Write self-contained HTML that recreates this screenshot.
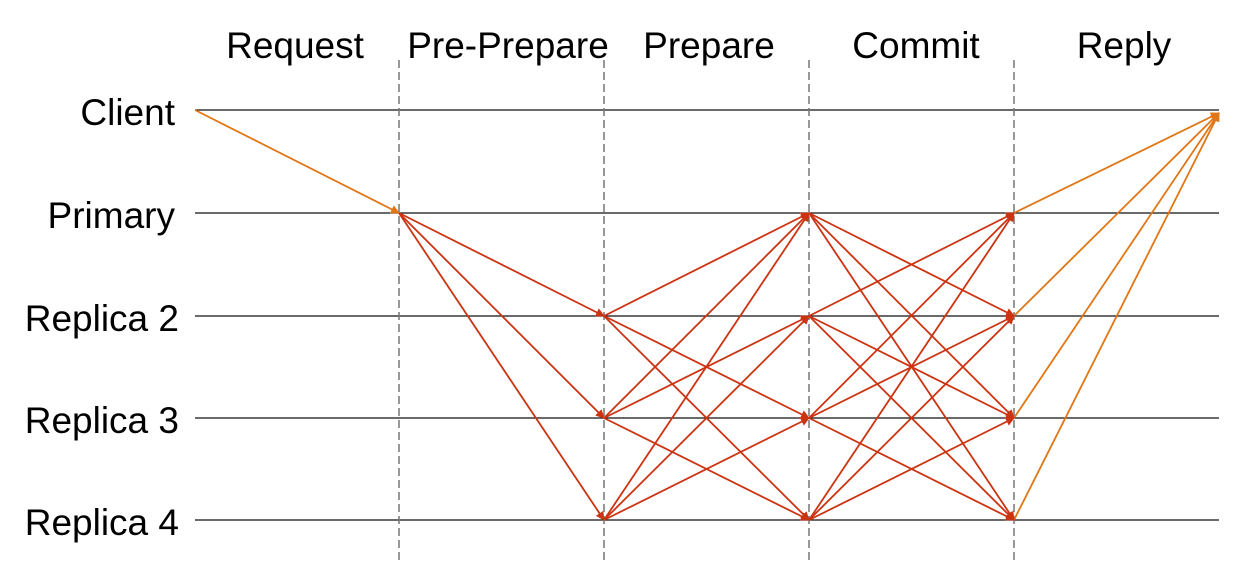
<!DOCTYPE html>
<html><head><style>
body{margin:0;background:#fff;}
svg{display:block;font-family:"Liberation Sans",sans-serif;}
</style></head><body>
<svg width="1259" height="581" viewBox="0 0 1259 581" xmlns="http://www.w3.org/2000/svg">
<defs>
<marker id="r" viewBox="0 0 10 10" refX="9" refY="5" markerWidth="5" markerHeight="5" orient="auto"><path d="M0,0L10,5L0,10z" fill="#cc3311"/></marker>
<marker id="o" viewBox="0 0 10 10" refX="9" refY="5" markerWidth="5" markerHeight="5" orient="auto"><path d="M0,0L10,5L0,10z" fill="#e07616"/></marker>
</defs>
<g font-size="37" fill="#000" text-anchor="middle">
<text x="295" y="58">Request</text>
<text x="508" y="58">Pre-Prepare</text>
<text x="709" y="58">Prepare</text>
<text x="916" y="58">Commit</text>
<text x="1124" y="58">Reply</text>
</g>
<g font-size="37" fill="#000" text-anchor="end">
<text x="175" y="125">Client</text>
<text x="175" y="228">Primary</text>
<text x="179" y="331">Replica 2</text>
<text x="179" y="433">Replica 3</text>
<text x="179" y="535">Replica 4</text>
</g>
<g stroke="#111" stroke-width="1.3">
<line x1="195" y1="110" x2="1219" y2="110"/>
<line x1="195" y1="213" x2="1219" y2="213"/>
<line x1="195" y1="316" x2="1219" y2="316"/>
<line x1="195" y1="418" x2="1219" y2="418"/>
<line x1="195" y1="520" x2="1219" y2="520"/>
</g>
<g stroke="#777" stroke-width="1.5" stroke-dasharray="8,4">
<line x1="399" y1="60" x2="399" y2="562"/>
<line x1="604" y1="60" x2="604" y2="562"/>
<line x1="809" y1="60" x2="809" y2="562"/>
<line x1="1014" y1="60" x2="1014" y2="562"/>
</g>
<g stroke="#e07616" stroke-width="1.8" marker-end="url(#o)">
<line x1="195" y1="110" x2="399" y2="213"/>
<line x1="1014" y1="213" x2="1219" y2="113"/>
<line x1="1014" y1="316" x2="1219" y2="113"/>
<line x1="1014" y1="418" x2="1219" y2="113"/>
<line x1="1014" y1="520" x2="1219" y2="113"/>
</g>
<g stroke="#cc3311" stroke-width="1.8" marker-end="url(#r)">
<line x1="399" y1="213" x2="604" y2="316"/>
<line x1="399" y1="213" x2="604" y2="418"/>
<line x1="399" y1="213" x2="604" y2="520"/>
<line x1="604" y1="316" x2="809" y2="213"/>
<line x1="604" y1="316" x2="809" y2="418"/>
<line x1="604" y1="316" x2="809" y2="520"/>
<line x1="604" y1="418" x2="809" y2="213"/>
<line x1="604" y1="418" x2="809" y2="316"/>
<line x1="604" y1="418" x2="809" y2="520"/>
<line x1="604" y1="520" x2="809" y2="213"/>
<line x1="604" y1="520" x2="809" y2="316"/>
<line x1="604" y1="520" x2="809" y2="418"/>
<line x1="809" y1="213" x2="1014" y2="316"/>
<line x1="809" y1="213" x2="1014" y2="418"/>
<line x1="809" y1="213" x2="1014" y2="520"/>
<line x1="809" y1="316" x2="1014" y2="213"/>
<line x1="809" y1="316" x2="1014" y2="418"/>
<line x1="809" y1="316" x2="1014" y2="520"/>
<line x1="809" y1="418" x2="1014" y2="213"/>
<line x1="809" y1="418" x2="1014" y2="316"/>
<line x1="809" y1="418" x2="1014" y2="520"/>
<line x1="809" y1="520" x2="1014" y2="213"/>
<line x1="809" y1="520" x2="1014" y2="316"/>
<line x1="809" y1="520" x2="1014" y2="418"/>
</g>
</svg>
</body></html>
